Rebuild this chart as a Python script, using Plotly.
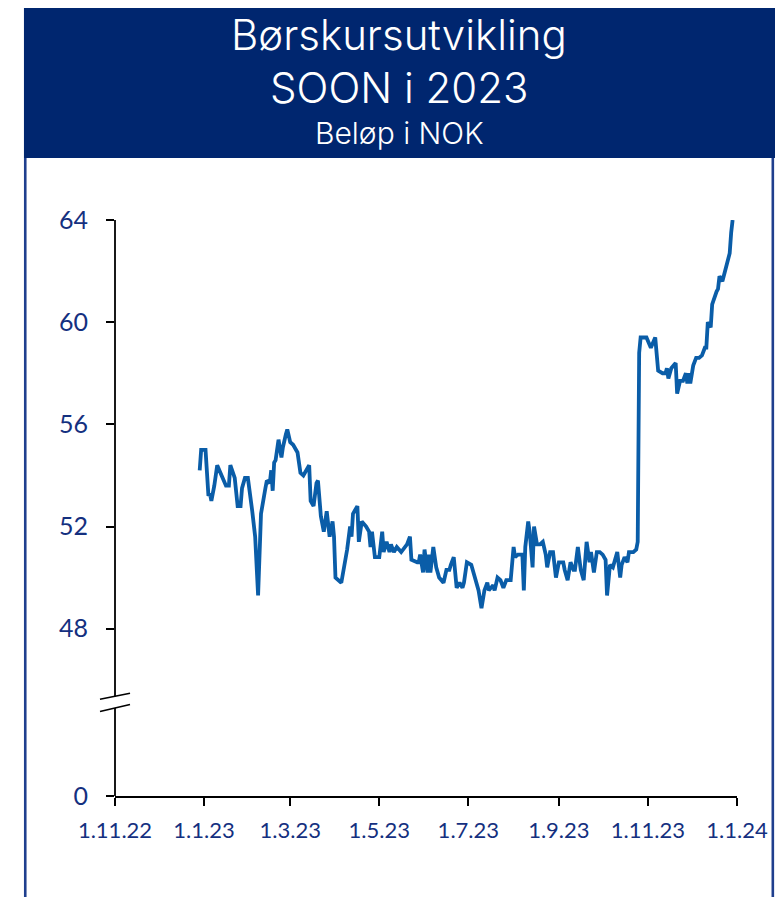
import plotly.graph_objects as go

# ---- data ----
dates = [
    "2022-12-29", "2022-12-30", "2023-01-02", "2023-01-04", "2023-01-05", "2023-01-06", "2023-01-08",
    "2023-01-10", "2023-01-13", "2023-01-16", "2023-01-18", "2023-01-19", "2023-01-22", "2023-01-24",
    "2023-01-26", "2023-01-27", "2023-01-29", "2023-01-31", "2023-02-03", "2023-02-05", "2023-02-07",
    "2023-02-09", "2023-02-12", "2023-02-13", "2023-02-15", "2023-02-16", "2023-02-17", "2023-02-18",
    "2023-02-19", "2023-02-21", "2023-02-23", "2023-02-24", "2023-02-26", "2023-02-27", "2023-03-01",
    "2023-03-03", "2023-03-06", "2023-03-08", "2023-03-10", "2023-03-12", "2023-03-14", "2023-03-15",
    "2023-03-17", "2023-03-19", "2023-03-20", "2023-03-22", "2023-03-24", "2023-03-26", "2023-03-28",
    "2023-03-30", "2023-03-31", "2023-04-01", "2023-04-03", "2023-04-05", "2023-04-09", "2023-04-11",
    "2023-04-12", "2023-04-13", "2023-04-16", "2023-04-17", "2023-04-19", "2023-04-22", "2023-04-24",
    "2023-04-25", "2023-04-26", "2023-04-28", "2023-05-01", "2023-05-03", "2023-05-04", "2023-05-06",
    "2023-05-08", "2023-05-09", "2023-05-11", "2023-05-13", "2023-05-16", "2023-05-20", "2023-05-22",
    "2023-05-23", "2023-05-27", "2023-05-28", "2023-05-29", "2023-05-31", "2023-06-01", "2023-06-03",
    "2023-06-04", "2023-06-05", "2023-06-07", "2023-06-09", "2023-06-11", "2023-06-14", "2023-06-16",
    "2023-06-18", "2023-06-19", "2023-06-21", "2023-06-23", "2023-06-25", "2023-06-27", "2023-06-28",
    "2023-06-30", "2023-07-03", "2023-07-05", "2023-07-08", "2023-07-10", "2023-07-12", "2023-07-14",
    "2023-07-15", "2023-07-18", "2023-07-19", "2023-07-21", "2023-07-23", "2023-07-25", "2023-07-27",
    "2023-07-30", "2023-08-01", "2023-08-02", "2023-08-04", "2023-08-07", "2023-08-08", "2023-08-09",
    "2023-08-11", "2023-08-12", "2023-08-14", "2023-08-15", "2023-08-17", "2023-08-19", "2023-08-21",
    "2023-08-23", "2023-08-24", "2023-08-26", "2023-08-28", "2023-08-30", "2023-09-01", "2023-09-04",
    "2023-09-05", "2023-09-07", "2023-09-09", "2023-09-11", "2023-09-12", "2023-09-14", "2023-09-16",
    "2023-09-18", "2023-09-20", "2023-09-22", "2023-09-23", "2023-09-25", "2023-09-27", "2023-09-29",
    "2023-10-01", "2023-10-03", "2023-10-04", "2023-10-06", "2023-10-08", "2023-10-11", "2023-10-13",
    "2023-10-14", "2023-10-16", "2023-10-18", "2023-10-19", "2023-10-22", "2023-10-24", "2023-10-25",
    "2023-10-26", "2023-10-27", "2023-10-29", "2023-10-31", "2023-11-03", "2023-11-06", "2023-11-08",
    "2023-11-11", "2023-11-13", "2023-11-14", "2023-11-15", "2023-11-17", "2023-11-20", "2023-11-21",
    "2023-11-23", "2023-11-25", "2023-11-27", "2023-11-28", "2023-11-29", "2023-11-30", "2023-12-02",
    "2023-12-04", "2023-12-06", "2023-12-08", "2023-12-10", "2023-12-11", "2023-12-12", "2023-12-14",
    "2023-12-15", "2023-12-16", "2023-12-18", "2023-12-19", "2023-12-20", "2023-12-22", "2023-12-24",
    "2023-12-27", "2023-12-28", "2023-12-29",
]
prices = [
    54.2, 55.0, 55.0, 53.2, 53.3, 53.0, 53.6,
    54.4, 54.0, 53.6, 53.6, 54.4, 53.9, 52.8,
    52.8, 53.5, 53.9, 53.9, 52.6, 51.6, 49.3,
    52.5, 53.5, 53.8, 53.7, 54.2, 53.4, 54.5,
    54.6, 55.4, 54.7, 55.1, 55.6, 55.8, 55.3,
    55.2, 54.9, 54.1, 54.0, 54.2, 54.4, 53.0,
    52.8, 53.7, 53.8, 52.4, 51.8, 52.6, 51.6,
    52.2, 51.6, 50.0, 49.9, 49.8, 51.1, 52.0,
    51.6, 52.5, 52.8, 51.4, 52.2, 52.0, 51.8,
    51.2, 51.8, 50.8, 50.8, 51.8, 51.0, 51.4,
    51.0, 51.3, 51.0, 51.2, 51.0, 51.3, 51.6,
    50.7, 50.6, 50.6, 50.9, 50.2, 51.1, 50.2,
    50.9, 50.2, 51.2, 50.4, 50.0, 49.8, 50.3,
    50.3, 50.5, 50.8, 49.6, 49.8, 49.6, 49.8,
    50.6, 50.5, 50.1, 49.5, 48.8, 49.5, 49.8,
    49.5, 49.7, 49.5, 50.0, 49.9, 49.6, 49.9,
    49.9, 51.2, 50.8, 50.9, 50.9, 49.5, 51.2,
    52.2, 51.8, 50.4, 52.0, 51.3, 51.3, 51.4,
    50.9, 50.4, 51.0, 51.0, 50.0, 50.6, 50.6,
    50.3, 49.9, 50.6, 50.3, 50.3, 51.2, 50.3,
    49.9, 51.4, 50.6, 51.0, 50.2, 51.0, 51.0,
    50.9, 50.7, 49.3, 50.5, 50.4, 51.0, 50.0,
    50.5, 50.8, 50.6, 51.0, 51.0, 51.1, 51.4,
    58.8, 59.4, 59.4, 59.4, 59.0, 59.4, 58.1,
    58.0, 58.0, 58.2, 57.8, 58.2, 58.4, 57.2,
    57.7, 57.7, 58.0, 57.6, 58.0, 57.6, 58.3,
    58.6, 58.6, 58.7, 59.0, 59.0, 60.0, 59.8,
    60.7, 60.9, 61.2, 61.3, 61.8, 61.6, 62.1,
    62.7, 63.5, 64.0,
]

x_tick_vals = ["2022-11-01", "2023-01-01", "2023-03-01", "2023-05-01",
               "2023-07-01", "2023-09-01", "2023-11-01", "2024-01-01"]
x_tick_text = ["1.11.22", "1.1.23", "1.3.23", "1.5.23", "1.7.23", "1.9.23", "1.11.23", "1.1.24"]

y_tick_text = ["0", "48", "52", "56", "60", "64"]
y_tick_real = [48, 52, 56, 60, 64]
y_break_gap = 6.55          # axis units shown between "0" and "48" (broken axis)
y_zero_pos = y_tick_real[0] - y_break_gap
y_tick_vals = [y_zero_pos] + y_tick_real

title_lines = ["Børskursutvikling", "SOON i 2023"]
subtitle = "Beløp i NOK"

# ---- layout geometry (page body adds an 8px offset) ----
OFF = 8
W_FIG, H_FIG = 783 - OFF, 897 - OFF
PLOT_L, PLOT_R, PLOT_T, PLOT_B = 115, 736.7, 220, 796   # reference pixels
L = PLOT_L - OFF
T = PLOT_T - OFF
R = W_FIG - (PLOT_R - OFF)
B = H_FIG - (PLOT_B - OFF)
PW, PH = PLOT_R - PLOT_L, PLOT_B - PLOT_T


def px_x(px):
    return (px - PLOT_L) / PW


def px_y(py):
    return (PLOT_B - py) / PH


NAVY = "#00266F"
BORDER = "#1F3F8E"
TXT = "#14307F"
LINE = "#0A5DA8"
FONT = "Lato"
TFONT = "Inter"

fig = go.Figure()
fig.add_trace(go.Scatter(
    x=dates, y=prices, mode="lines",
    line=dict(color=LINE, width=3.8),
    hoverinfo="x+y", showlegend=False,
))

shapes = [
    # header banner
    dict(type="rect", xref="paper", yref="paper",
         x0=px_x(24), x1=px_x(775), y0=px_y(158), y1=px_y(2),
         fillcolor=NAVY, line=dict(width=0), layer="below"),
    # side borders of the panel
    dict(type="line", xref="paper", yref="paper",
         x0=px_x(25.3), x1=px_x(25.3), y0=px_y(158), y1=px_y(905),
         line=dict(color=BORDER, width=2.6)),
    dict(type="line", xref="paper", yref="paper",
         x0=px_x(772.5), x1=px_x(772.5), y0=px_y(158), y1=px_y(905),
         line=dict(color=BORDER, width=2.6)),
    # y axis line, split at the break
    dict(type="line", xref="paper", yref="paper",
         x0=0, x1=0, y0=1, y1=px_y(696.5), line=dict(color="black", width=1.8)),
    dict(type="line", xref="paper", yref="paper",
         x0=0, x1=0, y0=px_y(708.0), y1=0, line=dict(color="black", width=1.8)),
    # break marks
    dict(type="line", xref="paper", yref="paper",
         x0=px_x(100), x1=px_x(130), y0=px_y(699.3), y1=px_y(693.3),
         line=dict(color="black", width=1.6)),
    dict(type="line", xref="paper", yref="paper",
         x0=px_x(100), x1=px_x(130), y0=px_y(711.5), y1=px_y(704.5),
         line=dict(color="black", width=1.6)),
]

annotations = [
    dict(text=title_lines[0], x=px_x(399), y=px_y(34.8), xref="paper", yref="paper",
         showarrow=False, xanchor="center", yanchor="middle",
         font=dict(family=TFONT, size=42, color="white", weight=300)),
    dict(text=title_lines[1], x=px_x(399), y=px_y(87.8), xref="paper", yref="paper",
         showarrow=False, xanchor="center", yanchor="middle",
         font=dict(family=TFONT, size=42, color="white", weight=300)),
    dict(text=subtitle, x=px_x(399), y=px_y(132.8), xref="paper", yref="paper",
         showarrow=False, xanchor="center", yanchor="middle",
         font=dict(family=TFONT, size=30, color="white", weight=300)),
]

fig.update_layout(
    width=W_FIG, height=H_FIG,
    margin=dict(l=L, r=R, t=T, b=B, pad=0),
    paper_bgcolor="white", plot_bgcolor="white",
    shapes=shapes, annotations=annotations,
    showlegend=False,
    font=dict(family=FONT, color=TXT),
)
fig.update_xaxes(
    type="date", range=["2022-11-01", "2024-01-01"],
    tickmode="array", tickvals=x_tick_vals, ticktext=x_tick_text,
    showline=True, linecolor="black", linewidth=1.8,
    ticks="outside", ticklen=8, tickwidth=1.8, tickcolor="black",
    showgrid=False, zeroline=False,
    tickfont=dict(family=FONT, size=22, color=TXT),
    ticklabelstandoff=6,
)
fig.update_yaxes(
    range=[y_zero_pos, 64],
    tickmode="array", tickvals=y_tick_vals, ticktext=y_tick_text,
    showline=False,
    ticks="outside", ticklen=8, tickwidth=1.8, tickcolor="black",
    showgrid=False, zeroline=False,
    tickfont=dict(family=FONT, size=25, color=TXT),
    ticklabelstandoff=13,
)

fig.write_html("out.html")
